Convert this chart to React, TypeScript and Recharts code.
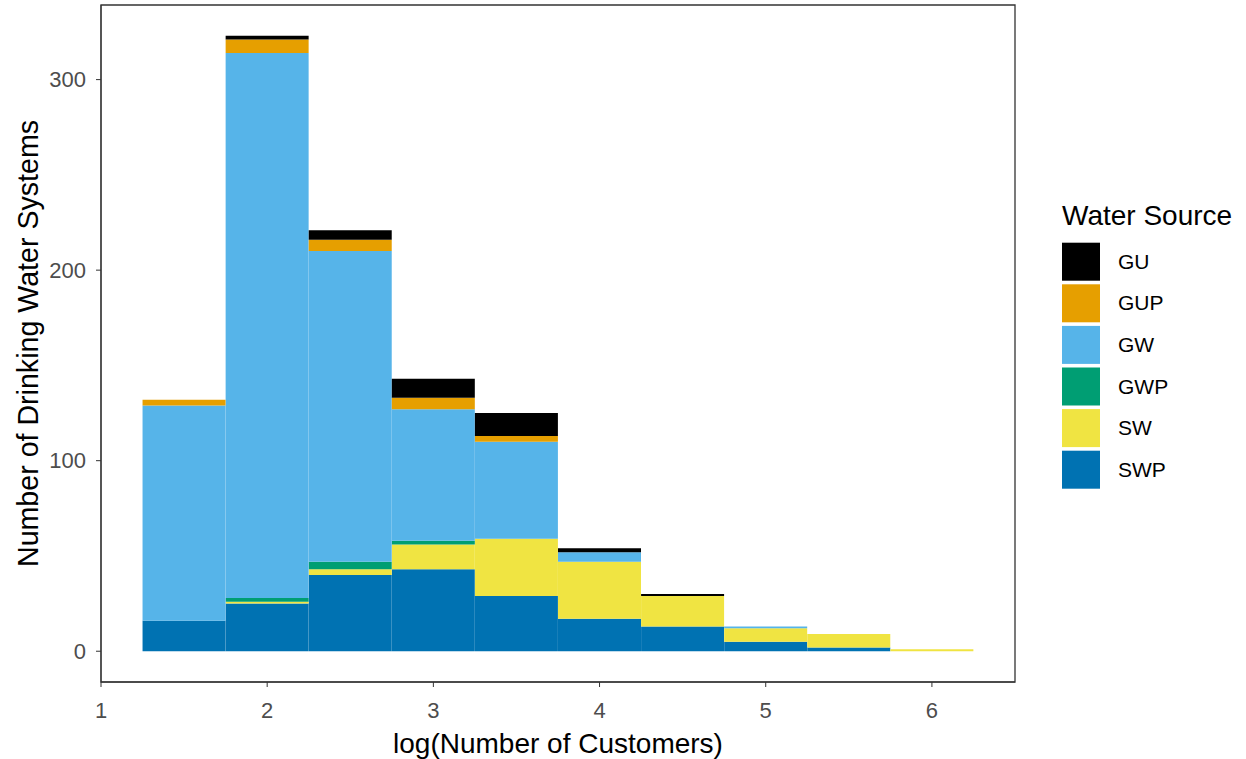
import React from 'react';
import { BarChart, Bar, XAxis, YAxis, ReferenceArea } from 'recharts';

// histogram bins (centres, width 0.5) of log(Number of Customers)
const BINS = [1.5, 2, 2.5, 3, 3.5, 4, 4.5, 5, 5.5, 6];

// counts per bin, one array per water source
const SWP = [16, 25, 40, 43, 29, 17, 13, 5, 2, 0];
const SW = [0, 1, 3, 13, 30, 30, 16, 7, 7, 1];
const GWP = [0, 2, 4, 2, 0, 0, 0, 0, 0, 0];
const GW = [113, 286, 163, 69, 51, 5, 0, 1, 0, 0];
const GUP = [3, 7, 6, 6, 3, 0, 0, 0, 0, 0];
const GU = [0, 2, 5, 10, 12, 2, 1, 0, 0, 0];

const X_TICKS = [1, 2, 3, 4, 5, 6];
const Y_TICKS = [0, 100, 200, 300];

// stacking order: first entry is the bottom of the stack
const SERIES = [
  { key: 'SWP', color: '#0072B2', values: SWP },
  { key: 'SW', color: '#F0E442', values: SW },
  { key: 'GWP', color: '#009E73', values: GWP },
  { key: 'GW', color: '#56B4E9', values: GW },
  { key: 'GUP', color: '#E69F00', values: GUP },
  { key: 'GU', color: '#000000', values: GU },
];

const data = BINS.map((bin, i) => {
  const row: any = { bin };
  SERIES.forEach((s) => {
    row[s.key] = s.values[i];
  });
  return row;
});

const W = 1246;
const H = 759;
const MARGIN = { top: 5, right: 231, bottom: 0, left: 0 };
const Y_AXIS_W = 101;
const X_AXIS_H = 77;
const X_DOMAIN: [number, number] = [1, 6.5];
const Y_DOMAIN: [number, number] = [-16.15, 339.15];

const FONT = '"Liberation Sans", Arial, sans-serif';
const tickStyle = { fontSize: 22, fill: '#4D4D4D', fontFamily: FONT };

const XTitle = (props: any) => {
  const { x, y, width } = props.viewBox;
  return (
    <text x={x + width / 2} y={y + 71} textAnchor="middle" fontSize={28} fontFamily={FONT} fill="#000">
      log(Number of Customers)
    </text>
  );
};

const YTitle = (props: any) => {
  const { x, y, height } = props.viewBox;
  const cx = x + 38;
  const cy = y + height / 2;
  return (
    <text
      x={cx}
      y={cy}
      textAnchor="middle"
      fontSize={28.6}
      fontFamily={FONT}
      fill="#000"
      transform={`rotate(-90, ${cx}, ${cy})`}
    >
      Number of Drinking Water Systems
    </text>
  );
};

const LegendBox = () => {
  const items = [...SERIES].reverse();
  return (
    <svg width={190} height={320} style={{ position: 'absolute', left: 1056, top: 190 }}>
      <text x={6} y={35} fontSize={28} fontFamily={FONT} fill="#000">
        Water Source
      </text>
      {items.map((s, i) => (
        <g key={s.key}>
          <rect x={6} y={52.7 + i * 41.6} width={38} height={38} fill={s.color} />
          <text x={62} y={52.7 + i * 41.6 + 26} fontSize={21} fontFamily={FONT} fill="#000">
            {s.key}
          </text>
        </g>
      ))}
    </svg>
  );
};

export default function App() {
  return (
    <div style={{ position: 'absolute', left: 0, top: 0, width: W, height: H, background: '#fff' }}>
      <BarChart width={W} height={H} data={data} margin={MARGIN} barCategoryGap="0%" barGap={0}>
        <XAxis
          dataKey="bin"
          type="number"
          domain={X_DOMAIN}
          ticks={X_TICKS}
          allowDataOverflow
          height={X_AXIS_H}
          tickSize={5}
          tickMargin={15}
          tick={tickStyle}
          axisLine={{ stroke: '#333' }}
          tickLine={{ stroke: '#333' }}
          label={<XTitle />}
        />
        <YAxis
          type="number"
          domain={Y_DOMAIN}
          ticks={Y_TICKS}
          allowDataOverflow
          width={Y_AXIS_W}
          tickSize={5}
          tickMargin={10}
          tick={tickStyle}
          axisLine={{ stroke: '#333' }}
          tickLine={{ stroke: '#333' }}
          label={<YTitle />}
        />
        {SERIES.map((s) => (
          <Bar key={s.key} dataKey={s.key} stackId="src" fill={s.color} isAnimationActive={false} />
        ))}
        <ReferenceArea
          x1={X_DOMAIN[0]}
          x2={X_DOMAIN[1]}
          y1={Y_DOMAIN[0]}
          y2={Y_DOMAIN[1]}
          fill="none"
          fillOpacity={0}
          stroke="#333"
          strokeWidth={1.3}
        />
      </BarChart>
      <LegendBox />
    </div>
  );
}
